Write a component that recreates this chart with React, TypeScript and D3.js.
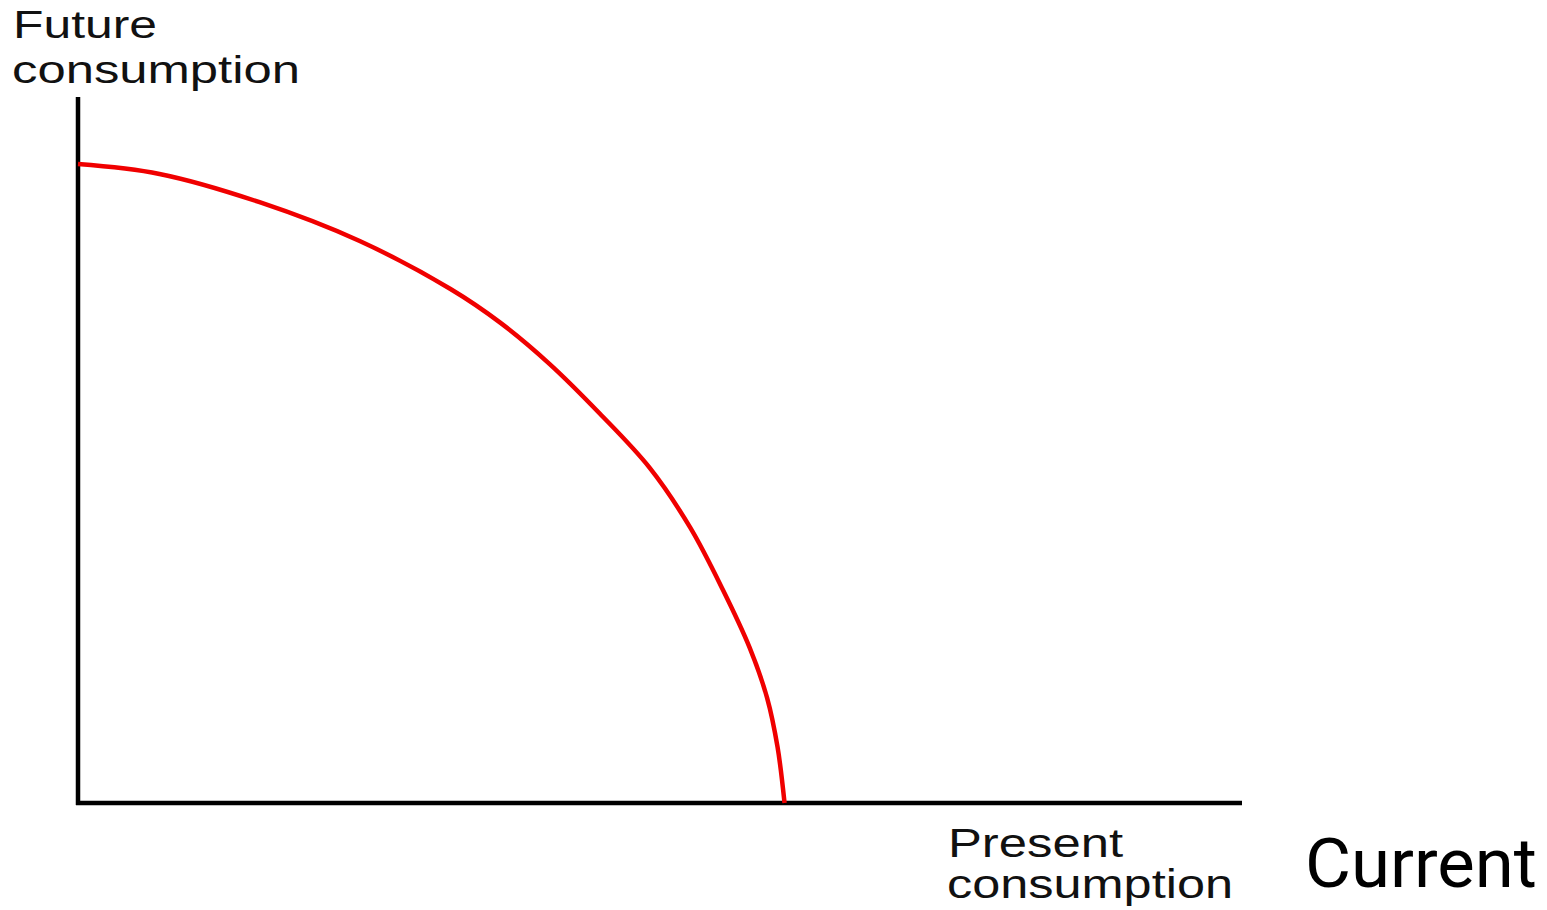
import React from "react";
import * as d3 from "d3";

// Production possibilities frontier: present vs future consumption (data units 0-100)
const presentValues = [0, 7.0, 15.6, 24.2, 32.0, 36.3, 40.5, 44.8, 49.1, 52.6, 55.4, 57.7, 59.2, 60.1, 60.7];
const futureValues = [90.5, 89.1, 85.1, 79.6, 72.8, 68.0, 62.2, 55.2, 47.5, 39.0, 30.2, 22.0, 14.9, 7.9, 0];

const yLabelLines = ["Future", "consumption"];
const xLabelLines = ["Present", "consumption"];
const sideLabel = "Current";

const W = 1547;
const H = 910;

export default function App() {
  const x = d3.scaleLinear().domain([0, 100]).range([78, 1242]);
  const y = d3.scaleLinear().domain([0, 100]).range([803, 97]);

  const pts = presentValues.map((p, i) => [p, futureValues[i]] as [number, number]);
  const line = d3
    .line<[number, number]>()
    .x((d) => x(d[0]))
    .y((d) => y(d[1]))
    .curve(d3.curveCatmullRom.alpha(0.5));

  const font = "'Liberation Sans', Arial, Helvetica, sans-serif";

  return (
    <svg
      width={W}
      height={H}
      style={{ position: "absolute", left: 0, top: 0, background: "#fff" }}
    >
      <rect x={0} y={0} width={W} height={H} fill="#fff" />
      {/* axes */}
      <line x1={x(0)} x2={x(0)} y1={y(100)} y2={y(0) + 2} stroke="#000" strokeWidth={4.5} />
      <line x1={x(0) - 2} x2={x(100)} y1={y(0)} y2={y(0)} stroke="#000" strokeWidth={4.5} />
      {/* frontier */}
      <path d={line(pts) || ""} fill="none" stroke="#f00000" strokeWidth={4.5} />
      {/* labels */}
      <g fontFamily={font} fill="#111">
        <text x={13} y={38} fontSize={39} textLength={144} lengthAdjust="spacingAndGlyphs">
          {yLabelLines[0]}
        </text>
        <text x={12} y={83} fontSize={39} textLength={288} lengthAdjust="spacingAndGlyphs">
          {yLabelLines[1]}
        </text>
        <text x={948} y={857} fontSize={40} textLength={175} lengthAdjust="spacingAndGlyphs">
          {xLabelLines[0]}
        </text>
        <text x={947} y={898} fontSize={40} textLength={286} lengthAdjust="spacingAndGlyphs">
          {xLabelLines[1]}
        </text>
      </g>
      <text
        x={1305}
        y={887}
        fontSize={68}
        fontFamily="'Liberation Sans Narrow', Roboto, 'Liberation Sans', sans-serif"
        fill="#000"
        textLength={232}
        lengthAdjust="spacingAndGlyphs"
      >
        {sideLabel}
      </text>
    </svg>
  );
}
